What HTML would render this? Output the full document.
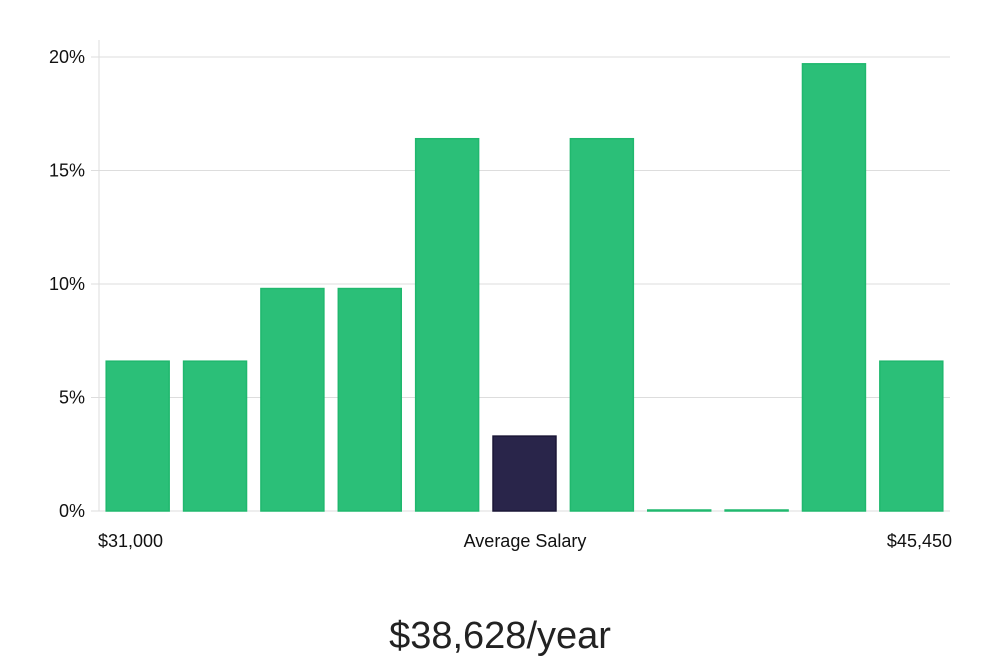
<!DOCTYPE html>
<html><head><meta charset="utf-8"><style>
body{margin:0;background:#fff;}
svg text{font-family:"Liberation Sans","DejaVu Sans",sans-serif;}
</style></head><body>
<svg width="1000" height="660" xmlns="http://www.w3.org/2000/svg" id="chart">
<g id="grid"></g>
<g id="bars"></g>
<g id="yticks"></g>
<text x="98" y="547" font-size="18" fill="#111">$31,000</text>
<text x="525" y="547" font-size="18" fill="#111" text-anchor="middle">Average Salary</text>
<text x="952" y="547" font-size="18" fill="#111" text-anchor="end">$45,450</text>
<text x="500" y="648" font-size="38" fill="#222" text-anchor="middle" font-weight="300">$38,628/year</text>
</svg>
<script>
const categories = ["b1","b2","b3","b4","b5","b6","b7","b8","b9","b10","b11"];
const values = [6.6, 6.6, 9.8, 9.8, 16.4, 3.3, 16.4, 0, 0, 19.7, 6.6];
const highlightIndex = 5;
const yTicks = [0, 5, 10, 15, 20];
const yTickLabels = ["0%", "5%", "10%", "15%", "20%"];

const ns = "http://www.w3.org/2000/svg";
const left = 99, right = 950, y0 = 511, yTop = 57, yMax = 20;
const yScale = v => y0 - (v / yMax) * (y0 - yTop);
const band = (right - left) / categories.length;
const xScale = i => left + i * band;
const pad = 7.2;

const grid = document.getElementById('grid');
const axis = document.createElementNS(ns, 'line');
axis.setAttribute('x1', left); axis.setAttribute('x2', left);
axis.setAttribute('y1', 40); axis.setAttribute('y2', y0);
axis.setAttribute('stroke', '#ddd');


grid.appendChild(axis);

const yt = document.getElementById('yticks');
yTicks.forEach((t, i) => {
  const l = document.createElementNS(ns, 'line');
  l.setAttribute('x1', left - 8); l.setAttribute('x2', right);
  l.setAttribute('y1', yScale(t)); l.setAttribute('y2', yScale(t));
  l.setAttribute('stroke', '#ddd');
  
  
  grid.appendChild(l);
  const tx = document.createElementNS(ns, 'text');
  tx.setAttribute('x', 85); tx.setAttribute('y', yScale(t) + 6);
  tx.setAttribute('text-anchor', 'end'); tx.setAttribute('font-size', '18'); tx.setAttribute('fill', '#111');
  tx.textContent = yTickLabels[i];
  
  
  yt.appendChild(tx);
});

const bars = document.getElementById('bars');
values.forEach((v, i) => {
  const r = document.createElementNS(ns, 'rect');
  const y = yScale(v);
  const hi = i === highlightIndex;
  r.setAttribute('x', xScale(i) + pad);
  r.setAttribute('width', band - 2 * pad);
  r.setAttribute('y', Math.min(y, y0 - 1));
  r.setAttribute('height', Math.max(y0 - y, 1));
  r.setAttribute('fill', hi ? '#29254a' : '#2bbf78');
  r.setAttribute('stroke', hi ? '#1a1636' : '#20b86e');
  r.setAttribute('stroke-width', '1.5');
  
  
  bars.appendChild(r);
});
</script>
</body></html>
